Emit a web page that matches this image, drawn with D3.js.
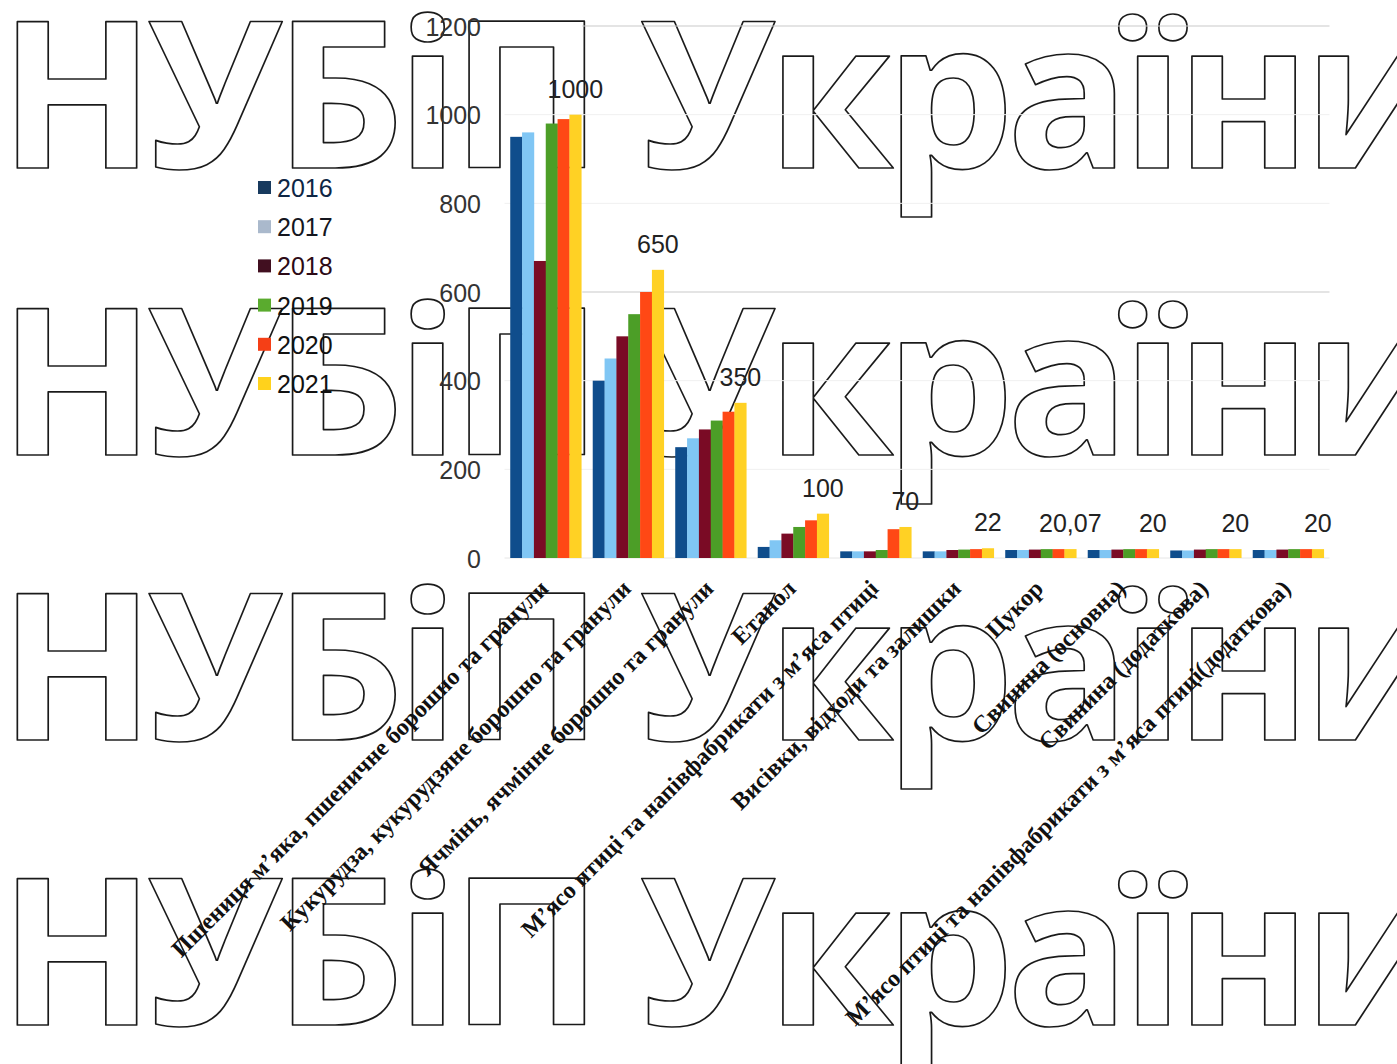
<!DOCTYPE html>
<html>
<head>
<meta charset="utf-8">
<script src="https://cdn.jsdelivr.net/npm/d3@7"></script>
<style>
  html, body { margin: 0; padding: 0; background: #fff; }
  svg { display: block; }
</style>
</head>
<body>
<svg id="chart" width="1397" height="1064"></svg>
<script>
// ---- data ----
const categories = [
  "Пшениця м’яка, пшеничне борошно та гранули",
  "Кукурудза, кукурудзяне борошно та гранули",
  "Ячмінь, ячмінне борошно та гранули",
  "Етанол",
  "М’ясо птиці та напівфабрикати з м’яса птиці",
  "Висівки, відходи та залишки",
  "Цукор",
  "Свинина (основна)",
  "Свинина (додаткова)",
  "М’ясо птиці та напівфабрикати з м’яса птиці(додаткова)"
];
const years = ["2016", "2017", "2018", "2019", "2020", "2021"];
const v2016 = [950, 400, 250, 25, 15, 15, 18, 18, 17, 18];
const v2017 = [960, 450, 270, 40, 15, 15, 18, 18, 17, 18];
const v2018 = [670, 500, 290, 55, 15, 18, 19, 19, 19, 19];
const v2019 = [980, 550, 310, 70, 18, 19, 20, 20, 20, 20];
const v2020 = [990, 600, 330, 85, 65, 20, 20, 20, 20, 20];
const v2021 = [1000, 650, 350, 100, 70, 22, 20.07, 20, 20, 20];
const dataLabels = ["1000", "650", "350", "100", "70", "22", "20,07", "20", "20", "20"];
const yTicks = [0, 200, 400, 600, 800, 1000, 1200];
const strongGrid = [600, 1200];
const watermarkText = "НУБіП України";

const series = [v2016, v2017, v2018, v2019, v2020, v2021];
const barColors = ["#0f4d8c", "#80c6f4", "#7a0b25", "#4c9e27", "#ff4815", "#ffd124"];
const legendColors = ["#183a5e", "#aab9cc", "#410f20", "#5aab2e", "#f53f16", "#ffd21c"];
const legendTextColors = ["#0e2644", "#14161e", "#2c0a16", "#111", "#111", "#111"];

// ---- layout ----
const svg = d3.select("#chart");
const plot = { left: 504.5, right: 1329.5, top: 26, bottom: 558 };

const x0 = d3.scaleBand().domain(categories).range([plot.left, plot.right])
  .paddingInner(0.139).paddingOuter(0.0695);
const x1 = d3.scaleBand().domain(years).range([0, x0.bandwidth()]);
const y = d3.scaleLinear().domain([0, 1200]).range([plot.bottom, plot.top]);

// ---- watermark (behind everything) ----
const wm = svg.append("g").attr("class", "watermark");
[168, 455, 740, 1025].forEach(base => {
  wm.append("text")
    .attr("x", -1).attr("y", base)
    .attr("font-family", "'Open Sans', 'DejaVu Sans', sans-serif")
    .attr("font-weight", 700)
    .attr("font-size", 204)
    .attr("letter-spacing", -8)
    .attr("fill", "none")
    .attr("stroke", "#1a1a1a")
    .attr("stroke-width", 1.7)
    .attr("stroke-linejoin", "round")
    .text(watermarkText);
});

// ---- grid ----
const grid = svg.append("g");
const strongStart = x0(categories[0]) + x0.bandwidth() + 1;
grid.selectAll("line.g").data(yTicks.filter(d => d > 0)).enter().append("line")
  .attr("x1", d => strongGrid.includes(d) ? strongStart : plot.left)
  .attr("x2", plot.right)
  .attr("y1", d => y(d)).attr("y2", d => y(d))
  .attr("stroke", d => strongGrid.includes(d) ? "#c9c9c9" : "#f0f0f0")
  .attr("stroke-width", 1);
grid.append("line")
  .attr("x1", plot.left).attr("x2", plot.right)
  .attr("y1", y(0)).attr("y2", y(0))
  .attr("stroke", "#e6e6e6");

// ---- y axis ----
const yAxis = d3.axisLeft(y).tickValues(yTicks).tickFormat(d3.format("d")).tickSize(0).tickPadding(0);
const ya = svg.append("g").attr("transform", `translate(481,0)`).call(yAxis);
ya.select(".domain").remove();
ya.selectAll("text")
  .attr("font-family", "'Liberation Sans', Arial, sans-serif")
  .attr("font-size", 25)
  .attr("fill", "#333")
  .attr("dy", "0.36em");

// ---- bars ----
const groups = svg.append("g").selectAll("g").data(categories).enter().append("g")
  .attr("transform", d => `translate(${x0(d)},0)`);
groups.selectAll("rect")
  .data((c, i) => years.map((yr, s) => ({ yr, s, v: series[s][i] })))
  .enter().append("rect")
  .attr("x", d => x1(d.yr))
  .attr("width", x1.bandwidth() + 0.3)
  .attr("y", d => y(d.v))
  .attr("height", d => y(0) - y(d.v))
  .attr("fill", d => barColors[d.s]);

// ---- data labels (over 2021 bars) ----
svg.append("g").selectAll("text").data(categories).enter().append("text")
  .attr("x", (c) => x0(c) + x1("2021") + x1.bandwidth() / 2)
  .attr("y", (c, i) => y(v2021[i]) - 17)
  .attr("text-anchor", "middle")
  .attr("font-family", "'Liberation Sans', Arial, sans-serif")
  .attr("font-size", 25)
  .attr("fill", "#222")
  .text((c, i) => dataLabels[i]);

// ---- category labels ----
svg.append("g").selectAll("text").data(categories).enter().append("text")
  .attr("transform", c => `translate(${x0(c) + x0.bandwidth() / 2 + 4},${plot.bottom + 32}) rotate(-45)`)
  .attr("text-anchor", "end")
  .attr("font-family", "'Liberation Serif', 'Times New Roman', serif")
  .attr("font-weight", 700)
  .attr("font-size", 24)
  .attr("fill", "#111")
  .text(c => c);

// ---- legend ----
const lg = svg.append("g").attr("transform", "translate(258,188)");
const items = lg.selectAll("g").data(years).enter().append("g")
  .attr("transform", (d, i) => `translate(0,${i * 39.2})`);
items.append("rect").attr("x", 0).attr("y", -7).attr("width", 13).attr("height", 13)
  .attr("fill", (d, i) => legendColors[i]);
items.append("text").attr("x", 19).attr("y", 0).attr("dy", "0.36em")
  .attr("font-family", "'Liberation Sans', Arial, sans-serif")
  .attr("font-size", 25)
  .attr("fill", (d, i) => legendTextColors[i])
  .text(d => d);
</script>
</body>
</html>
